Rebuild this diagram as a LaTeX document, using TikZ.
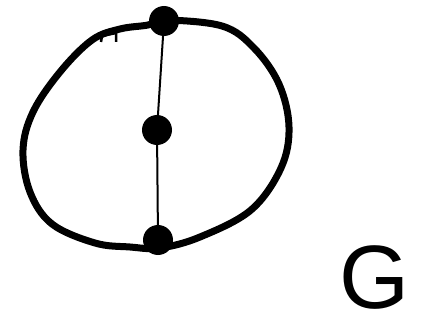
\documentclass[tikz,border=0pt]{standalone}
\usepackage{fontspec}
\setmainfont{Liberation Sans}
\usetikzlibrary{shapes.misc}
\begin{document}
\begin{tikzpicture}[x=1pt,y=-1pt,
  ring/.style={line width=7pt,line join=round,line cap=round},
  vtx/.style={rounded rectangle,fill=black,minimum width=27pt,minimum height=30pt,inner sep=0pt},
  edge/.style={line width=2pt},
  lbl/.style={font=\fontsize{90}{90}\selectfont,inner sep=0pt}]
\fill[white] (0,0) rectangle (421,329);
\useasboundingbox (0,0) rectangle (421,329);
\draw[ring] plot[smooth cycle,tension=0.6] coordinates {
 (163,20) (222,26) (254,48) (279,84) (289,127) (281,168) (251,210) (200,237)
 (160,248) (130,247) (95,243) (52,224) (30,192) (23,150) (33,112) (60,72)
 (92,40) (120,29) (148,25)};
\draw[line width=2.5pt] (101,42) -- (102,36) -- (116,33) -- (116,42);
\node[vtx] (top) at (164,21) {};
\node[vtx] (mid) at (157,130) {};
\node[vtx] (bot) at (158,240) {};
\draw[edge] (top) -- (mid);
\draw[edge] (mid) -- (bot);
\node[lbl,anchor=base] (g) at (375,308) {G};
\end{tikzpicture}
\end{document}
